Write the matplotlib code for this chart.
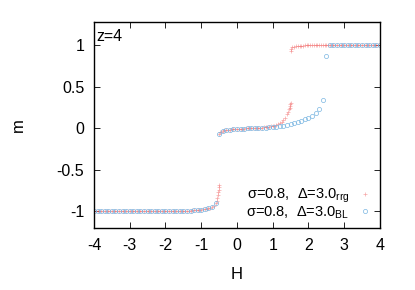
import matplotlib
matplotlib.use('Agg')
import matplotlib.pyplot as plt

plt.rcParams['font.family'] = ['Liberation Sans', 'DejaVu Sans']
plt.rcParams['mathtext.fontset'] = 'custom'
plt.rcParams['mathtext.rm'] = 'Liberation Sans'

# ---- rrg data (red +), step 0.05 ----
h_rrg = [-4.0, -3.95, -3.9, -3.85, -3.8, -3.75, -3.7, -3.65, -3.6, -3.55,
         -3.5, -3.45, -3.4, -3.35, -3.3, -3.25, -3.2, -3.15, -3.1, -3.05,
         -3.0, -2.95, -2.9, -2.85, -2.8, -2.75, -2.7, -2.65, -2.6, -2.55,
         -2.5, -2.45, -2.4, -2.35, -2.3, -2.25, -2.2, -2.15, -2.1, -2.05,
         -2.0, -1.95, -1.9, -1.85, -1.8, -1.75, -1.7, -1.65, -1.6, -1.55,
         -1.5, -1.45, -1.4, -1.35, -1.3, -1.25, -1.2, -1.15, -1.1, -1.05,
         -1.0, -0.95, -0.9, -0.85, -0.8, -0.75, -0.7, -0.65, -0.6, -0.57,
         -0.55, -0.53, -0.52, -0.51, -0.5, -0.49,
         # middle branch
         -0.5, -0.48, -0.45, -0.4, -0.35, -0.3, -0.25, -0.2, -0.15, -0.1,
         -0.05, 0.0, 0.05, 0.1, 0.15, 0.2, 0.25, 0.3, 0.35, 0.4,
         0.45, 0.5, 0.55, 0.6, 0.65, 0.7, 0.75, 0.8, 0.85, 0.9,
         0.95, 1.0, 1.05, 1.1, 1.15, 1.2, 1.25, 1.3, 1.35, 1.4,
         1.43, 1.45, 1.47, 1.48, 1.49, 1.5,
         # upper branch
         1.5, 1.52, 1.55, 1.6, 1.65, 1.7, 1.75, 1.8, 1.85, 1.9, 1.95,
         2.0, 2.05, 2.1, 2.15, 2.2, 2.25, 2.3, 2.35, 2.4, 2.45,
         2.5, 2.55, 2.6, 2.65, 2.7, 2.75, 2.8, 2.85, 2.9, 2.95,
         3.0, 3.05, 3.1, 3.15, 3.2, 3.25, 3.3, 3.35, 3.4, 3.45,
         3.5, 3.55, 3.6, 3.65, 3.7, 3.75, 3.8, 3.85, 3.9, 3.95, 4.0]
m_rrg = [-1.0, -1.0, -1.0, -1.0, -1.0, -1.0, -1.0, -1.0, -1.0, -1.0,
         -1.0, -1.0, -1.0, -1.0, -1.0, -1.0, -1.0, -1.0, -1.0, -1.0,
         -1.0, -1.0, -1.0, -1.0, -1.0, -1.0, -1.0, -1.0, -1.0, -1.0,
         -1.0, -1.0, -1.0, -1.0, -1.0, -1.0, -0.999, -0.999, -0.999, -0.999,
         -0.999, -0.998, -0.998, -0.998, -0.997, -0.997, -0.996, -0.996, -0.995, -0.995,
         -0.994, -0.993, -0.992, -0.991, -0.99, -0.989, -0.988, -0.986, -0.984, -0.982,
         -0.98, -0.977, -0.974, -0.97, -0.965, -0.958, -0.95, -0.935, -0.9, -0.87,
         -0.84, -0.8, -0.77, -0.74, -0.71, -0.68,
         -0.07, -0.05, -0.04, -0.032, -0.026, -0.022, -0.019, -0.016, -0.014, -0.012,
         -0.01, -0.008, -0.006, -0.005, -0.004, -0.003, -0.002, -0.001, 0.0, 0.001,
         0.002, 0.003, 0.004, 0.005, 0.006, 0.008, 0.01, 0.012, 0.015, 0.018,
         0.022, 0.027, 0.033, 0.04, 0.05, 0.062, 0.078, 0.1, 0.13, 0.17,
         0.2, 0.23, 0.25, 0.27, 0.29, 0.31,
         0.93, 0.96, 0.975, 0.985, 0.99, 0.993, 0.995, 0.996, 0.997, 0.998, 0.998,
         0.999, 0.999, 0.999, 1.0, 1.0, 1.0, 1.0, 1.0, 1.0, 1.0,
         1.0, 1.0, 1.0, 1.0, 1.0, 1.0, 1.0, 1.0, 1.0, 1.0,
         1.0, 1.0, 1.0, 1.0, 1.0, 1.0, 1.0, 1.0, 1.0, 1.0,
         1.0, 1.0, 1.0, 1.0, 1.0, 1.0, 1.0, 1.0, 1.0, 1.0, 1.0]

# ---- BL data (blue o), step 0.1 ----
h_bl = [-4.0, -3.9, -3.8, -3.7, -3.6, -3.5, -3.4, -3.3, -3.2, -3.1,
        -3.0, -2.9, -2.8, -2.7, -2.6, -2.5, -2.4, -2.3, -2.2, -2.1,
        -2.0, -1.9, -1.8, -1.7, -1.6, -1.5, -1.4, -1.3, -1.2, -1.1,
        -1.0, -0.9, -0.8, -0.7, -0.6,
        -0.5, -0.4, -0.3, -0.2, -0.1, 0.0, 0.1, 0.2, 0.3, 0.4,
        0.5, 0.6, 0.7, 0.8, 0.9, 1.0, 1.1, 1.2, 1.3, 1.4,
        1.5, 1.6, 1.7, 1.8, 1.9, 2.0, 2.1, 2.2, 2.3, 2.4,
        2.5, 2.6, 2.7, 2.8, 2.9, 3.0, 3.1, 3.2, 3.3, 3.4,
        3.5, 3.6, 3.7, 3.8, 3.9, 4.0]
m_bl = [-1.0, -1.0, -1.0, -1.0, -1.0, -1.0, -1.0, -1.0, -1.0, -1.0,
        -1.0, -1.0, -1.0, -1.0, -1.0, -1.0, -1.0, -1.0, -0.999, -0.999,
        -0.999, -0.998, -0.998, -0.997, -0.996, -0.994, -0.992, -0.99, -0.988, -0.984,
        -0.98, -0.974, -0.965, -0.95, -0.9,
        -0.07, -0.032, -0.022, -0.016, -0.012, -0.008, -0.005, -0.003, -0.001, 0.001,
        0.003, 0.005, 0.007, 0.009, 0.012, 0.015, 0.02, 0.026, 0.033, 0.042,
        0.052, 0.063, 0.076, 0.09, 0.107, 0.127, 0.15, 0.18, 0.235, 0.34,
        0.87, 1.0, 1.0, 1.0, 1.0, 1.0, 1.0, 1.0, 1.0, 1.0,
        1.0, 1.0, 1.0, 1.0, 1.0, 1.0]

xticks = [-4, -3, -2, -1, 0, 1, 2, 3, 4]
yticks = [-1, -0.5, 0, 0.5, 1]
ytick_labels = ['-1', '-0.5', '0', '0.5', '1']

fig = plt.figure(figsize=(4.15, 2.9), dpi=100)
ax = fig.add_axes([0.2265, 0.214, 0.689, 0.71])

ax.plot(h_rrg, m_rrg, linestyle='none', marker='+', markersize=3.2,
        markeredgewidth=0.5, color='#f06060', alpha=0.55,
        label=r'σ=0.8,  Δ=3.0$_{\rm rrg}$')
ax.plot(h_bl, m_bl, linestyle='none', marker='o', markersize=3.0,
        markeredgewidth=0.5, markerfacecolor='none', markeredgecolor='#7ab6e2',
        label=r'σ=0.8,  Δ=3.0$_{\rm BL}$')

ax.set_xlim(-4, 4)
ax.set_ylim(-1.2, 1.28)
ax.set_xticks(xticks)
ax.set_xticklabels([str(t) for t in xticks])
ax.set_yticks(yticks)
ax.set_yticklabels(ytick_labels)
ax.tick_params(direction='in', top=True, right=True, length=4, width=0.6,
               labelsize=11.5, pad=7)
for s in ax.spines.values():
    s.set_linewidth(1.0)

ax.set_xlabel('H', fontsize=12, labelpad=10)
ax.set_ylabel('m', fontsize=12, labelpad=22)
ax.text(0.008, 0.965, 'z=4', transform=ax.transAxes, fontsize=11.5,
        ha='left', va='top')

ax.legend(loc='lower right', frameon=False, markerfirst=False, fontsize=10.5,
          handletextpad=0.6, handlelength=1.0, borderaxespad=0.1,
          labelspacing=-0.1)

fig.savefig('out.png', dpi=100)
